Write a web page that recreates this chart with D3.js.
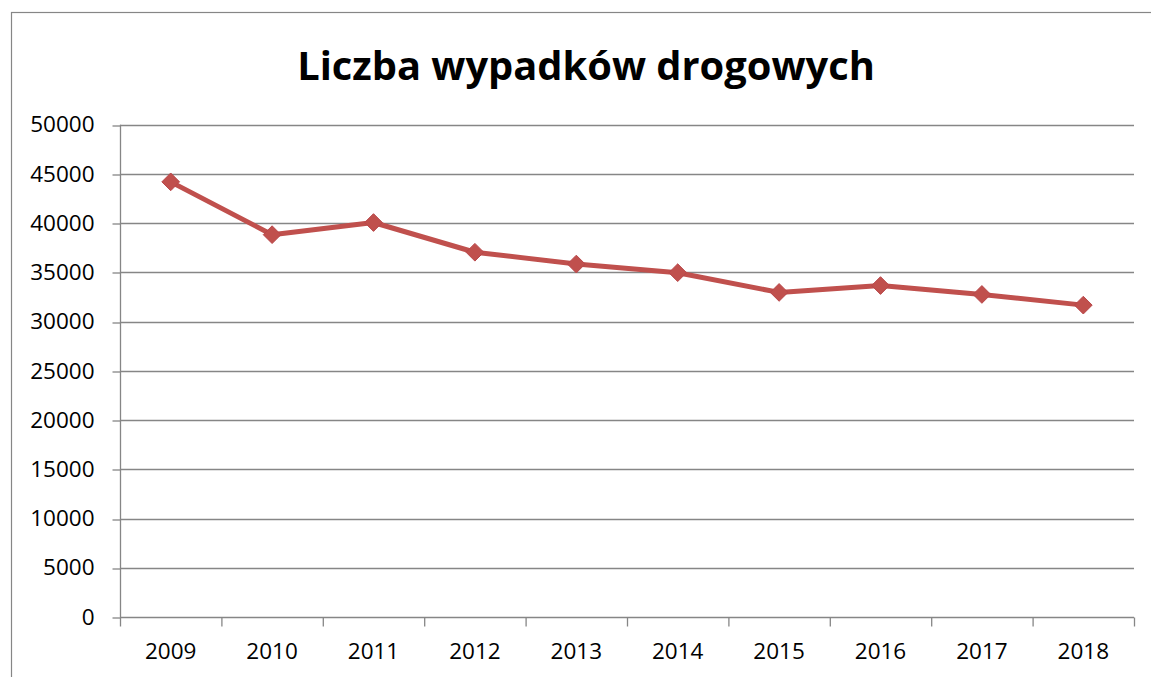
<!DOCTYPE html>
<html>
<head>
<meta charset="utf-8">
<script src="https://cdn.jsdelivr.net/npm/d3@7"></script>
<style>
  html, body { margin: 0; padding: 0; background: #fff; }
  svg { display: block; }
  text { font-family: "Open Sans", "DejaVu Sans", sans-serif; }
</style>
</head>
<body>
<svg id="chart" width="1151" height="677"></svg>
<script>
const title = "Liczba wypadków drogowych";
const years = ["2009","2010","2011","2012","2013","2014","2015","2016","2017","2018"];
const accidents = [44196, 38832, 40065, 37046, 35847, 34970, 32967, 33664, 32760, 31674];
const yTicks = [0, 5000, 10000, 15000, 20000, 25000, 30000, 35000, 40000, 45000, 50000];

const W = 1151, H = 677;
const plot = { left: 120, right: 1134, top: 124.7, bottom: 617 };
const gridColor = "#868686";
const lineColor = "#C0504D";

const svg = d3.select("#chart");

// chart border
svg.append("rect")
  .attr("x", 11.5).attr("y", 12.5)
  .attr("width", W + 10).attr("height", H + 10)
  .attr("fill", "#fff").attr("stroke", gridColor).attr("stroke-width", 1.2);

const x = d3.scaleBand().domain(years).range([plot.left, plot.right]).padding(0);
const xEdge = d3.scaleLinear().domain([0, years.length]).range([plot.left, plot.right]);
const y = d3.scaleLinear().domain([0, 50000]).range([plot.bottom, plot.top]);

// gridlines
svg.append("g")
  .selectAll("line").data(yTicks.filter(d => d > 0)).join("line")
  .attr("x1", plot.left).attr("x2", plot.right)
  .attr("y1", d => Math.round(y(d)) + 0.5).attr("y2", d => Math.round(y(d)) + 0.5)
  .attr("stroke", gridColor).attr("stroke-width", 1.3);

// y axis
const yAxis = svg.append("g")
  .attr("transform", `translate(${plot.left + 0.5},0)`)
  .call(d3.axisLeft(y).tickValues(yTicks).tickSize(8).tickPadding(18).tickFormat(d3.format("d")));
yAxis.selectAll("line").attr("stroke", gridColor).attr("stroke-width", 1.3)
  .attr("transform", d => `translate(0,${Math.round(y(d)) + 0.5 - y(d)})`);
yAxis.select(".domain").attr("stroke", gridColor).attr("stroke-width", 1.3)
  .attr("d", `M0,${plot.top}V${plot.bottom}`);
yAxis.selectAll("text").attr("font-size", 22.5).attr("fill", "#000")
  .attr("font-family", "'Open Sans', sans-serif");

// x axis tick marks at category edges
const xTickG = svg.append("g")
  .attr("transform", `translate(0,${Math.round(plot.bottom) + 0.5})`)
  .call(d3.axisBottom(xEdge).tickValues(d3.range(0, years.length + 1)).tickSize(9).tickFormat(""));
xTickG.selectAll("line").attr("stroke", gridColor).attr("stroke-width", 1.3);
xTickG.select(".domain").attr("stroke", gridColor).attr("stroke-width", 1.3)
  .attr("d", `M${plot.left},0H${plot.right}`);

// x axis labels
const xLab = svg.append("g")
  .attr("transform", `translate(0,${Math.round(plot.bottom)})`)
  .call(d3.axisBottom(x).tickSize(0).tickPadding(26));
xLab.select(".domain").remove();
xLab.selectAll("text").attr("font-size", 22.5).attr("fill", "#000")
  .attr("font-family", "'Open Sans', sans-serif");

// line
const line = d3.line()
  .x((d, i) => x(years[i]) + x.bandwidth() / 2)
  .y(d => y(d));
svg.append("path")
  .datum(accidents)
  .attr("d", line)
  .attr("fill", "none")
  .attr("stroke", lineColor)
  .attr("stroke-width", 5)
  .attr("stroke-linejoin", "round");

// diamond markers
const diamond = d3.symbol().type(d3.symbolDiamond2).size(200);
svg.append("g")
  .selectAll("path").data(accidents).join("path")
  .attr("d", diamond)
  .attr("transform", (d, i) => `translate(${x(years[i]) + x.bandwidth() / 2},${y(d)})`)
  .attr("fill", lineColor)
  .attr("stroke", "#B9474A")
  .attr("stroke-width", 1);

// title
const t = svg.append("text")
  .attr("x", 586).attr("y", 80)
  .attr("text-anchor", "middle")
  .attr("font-size", 44)
  .attr("font-weight", "bold")
  .attr("fill", "#000")
  .text(title);
const tw = t.node().getComputedTextLength();
t.attr("font-size", 44 * 578 / tw);
</script>
</body>
</html>
